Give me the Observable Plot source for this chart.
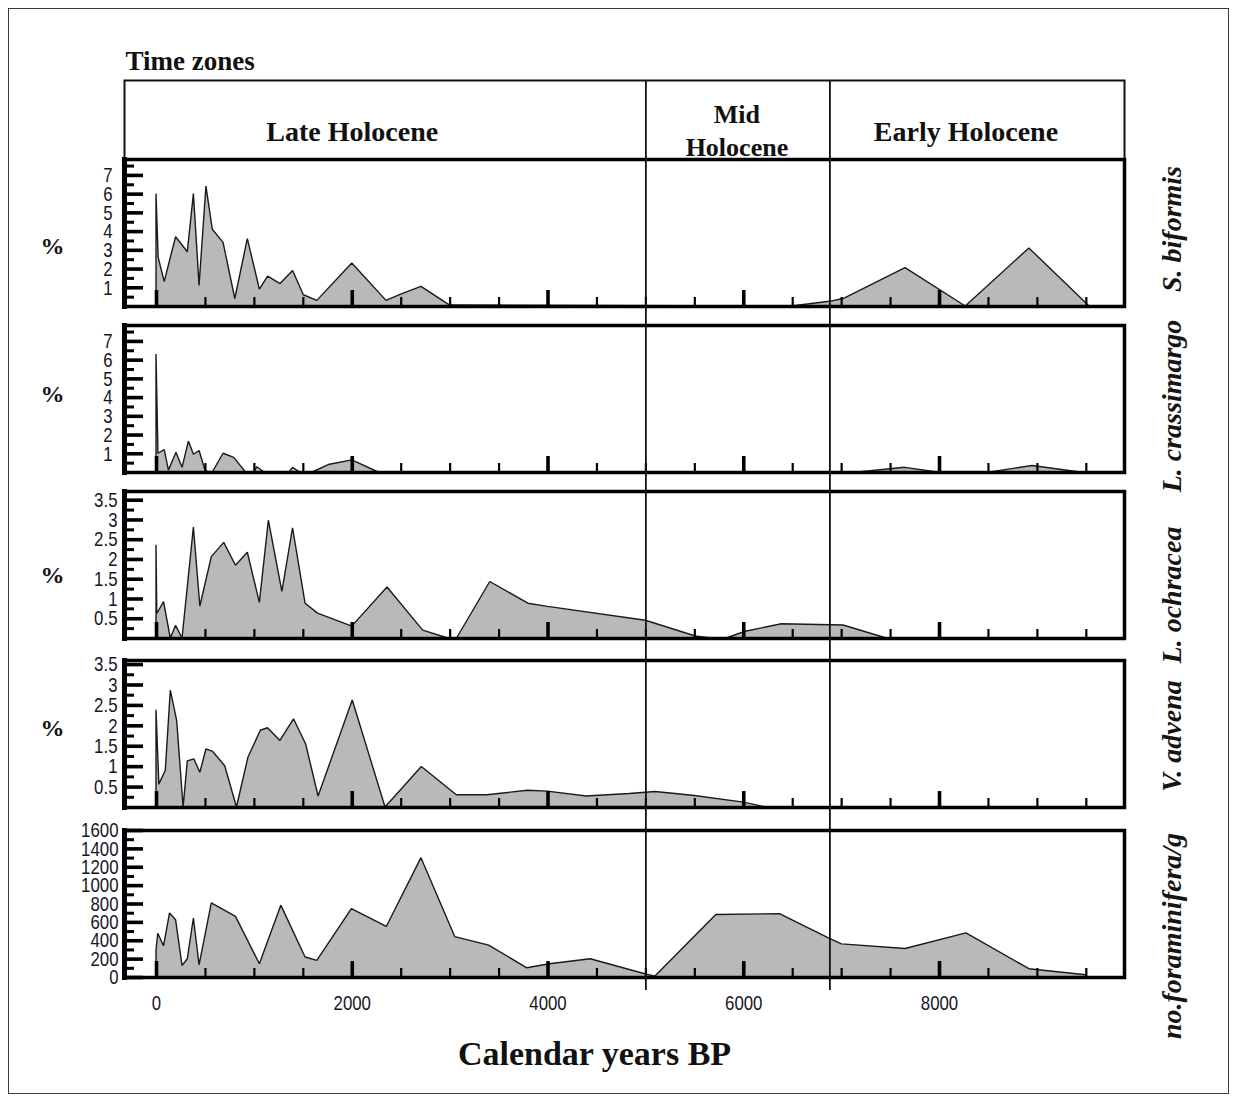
<!DOCTYPE html>
<html>
<head>
<meta charset="utf-8">
<script src="https://cdn.jsdelivr.net/npm/d3@7"></script>
<script src="https://cdn.jsdelivr.net/npm/@observablehq/plot@0.6"></script>
<style>
  body { margin: 0; background: #fff; }
  #chart { position: relative; width: 1236px; height: 1101px; background: #fff; overflow: hidden; }
  #chart svg { position: absolute; left: 0; }
  #chart .outer { position: absolute; left: 8px; top: 8px; width: 1219px; height: 1084px; border: 1.5px solid #3a3a3a; }
</style>
</head>
<body>
<div id="chart"><div class="outer"></div></div>
<script>
// ---- time axis (calendar years BP) ----
const xDomain = [-327, 9890];
const majorYears = [0, 2000, 4000, 6000, 8000];
const minorYears = [500, 1000, 1500, 2500, 3000, 3500, 4500, 5000, 5500, 6500, 7000, 7500, 8500, 9000, 9500];

// ---- Holocene time zones ----
const zoneNames = ["Late Holocene", "Mid\nHolocene", "Early Holocene"];
const zoneLabelYears = [2000, 5930, 8270];
const zoneBounds = [5000, 6880];

// ---- series: [calendar years BP, value] ----
const sBiformis = [
  [0, 6.0], [22, 2.6], [84, 1.3], [127, 2.2], [200, 3.7], [320, 2.9], [382, 6.0], [440, 1.1],
  [510, 6.4], [575, 4.1], [685, 3.4], [805, 0.4], [933, 3.6], [1056, 0.9], [1140, 1.6],
  [1268, 1.2], [1395, 1.9], [1505, 0.6], [1643, 0.3], [2000, 2.3], [2350, 0.3], [2506, 0.65],
  [2707, 1.05], [3000, 0.05], [6490, 0], [6880, 0.25], [7020, 0.4], [7653, 2.05], [8268, 0],
  [8918, 3.1], [9533, 0]
];
const lCrassimargo = [
  [0, 6.3], [20, 1.0], [84, 1.2], [127, 0.1], [204, 1.05], [266, 0.25], [331, 1.65], [382, 0.95],
  [440, 1.15], [503, 0.05], [575, 0], [685, 1.0], [794, 0.78], [914, 0], [995, 0], [1030, 0.28],
  [1104, 0], [1360, 0], [1395, 0.25], [1468, 0], [1596, 0], [1760, 0.4], [2000, 0.65], [2270, 0],
  [7170, 0], [7650, 0.25], [7980, 0], [8520, 0], [8950, 0.35], [9440, 0]
];
const lOchracea = [
  [0, 2.36], [8, 0.62], [77, 0.92], [146, 0], [200, 0.32], [266, 0], [382, 2.81], [448, 0.81],
  [565, 2.06], [692, 2.42], [812, 1.84], [933, 2.17], [1056, 0.9], [1148, 2.98], [1286, 1.18],
  [1395, 2.79], [1523, 0.88], [1650, 0.63], [2000, 0.3], [2360, 1.29], [2725, 0.2], [2980, 0],
  [3071, 0], [3410, 1.43], [3800, 0.88], [4000, 0.8], [5000, 0.45], [5510, 0.05], [5670, 0],
  [5826, 0], [6020, 0.17], [6390, 0.36], [7020, 0.33], [7460, 0]
];
const vAdvena = [
  [0, 2.38], [29, 0.56], [95, 0.9], [146, 2.86], [211, 2.12], [277, 0], [320, 1.13], [386, 1.18],
  [448, 0.85], [510, 1.42], [575, 1.37], [702, 1.01], [822, 0], [939, 1.22], [1066, 1.88],
  [1139, 1.94], [1266, 1.63], [1405, 2.16], [1528, 1.55], [1656, 0.27], [2005, 2.62], [2340, 0],
  [2711, 0.99], [3068, 0.3], [3377, 0.3], [3795, 0.41], [3996, 0.39], [4396, 0.27], [4833, 0.33],
  [5100, 0.38], [5500, 0.28], [6000, 0.12], [6230, 0]
];
const foraminifera = [
  [0, 291], [18, 476], [77, 340], [138, 697], [200, 624], [266, 125], [320, 199], [382, 642],
  [440, 133], [565, 808], [812, 660], [1056, 144], [1275, 782], [1523, 218], [1643, 181],
  [1996, 745], [2353, 550], [2707, 1299], [3053, 439], [3399, 347], [3789, 100], [4018, 144],
  [4437, 199], [5002, 33], [5098, 10], [5720, 680], [6370, 690], [6880, 420], [7003, 360],
  [7653, 310], [8275, 480], [8918, 90], [9500, 25]
];

// ---- y tick values per panel ----
const pctTicks7 = [1, 2, 3, 4, 5, 6, 7];
const pctMinor7 = [0.5, 1.5, 2.5, 3.5, 4.5, 5.5, 6.5, 7.5];
const pctTicks35 = [0.5, 1, 1.5, 2, 2.5, 3, 3.5];
const pctMinor35 = [0.25, 0.75, 1.25, 1.75, 2.25, 2.75, 3.25];
const countTicks = [0, 200, 400, 600, 800, 1000, 1200, 1400, 1600];
const countMinor = [100, 300, 500, 700, 900, 1100, 1300, 1500];

const speciesNames = ["S. biformis", "L. crassimargo", "L. ochracea", "V. advena", "no.foraminifera/g"];
const unitLabels = ["%", "%", "%", "%", null];

const toRows = arr => arr.map(([year, value]) => ({year, value}));

// layout of the stacked panels (frame top in px, y domain, tick sets, label offsets)
const panels = [
  {series: sBiformis, top: 159, domain: [0, 7.85], major: pctTicks7, minor: pctMinor7, pad: 12, unitDy: 13, nameDy: -4},
  {series: lCrassimargo, top: 325, domain: [0, 7.85], major: pctTicks7, minor: pctMinor7, pad: 12, unitDy: -5, nameDy: 7},
  {series: lOchracea, top: 491, domain: [0, 3.72], major: pctTicks35, minor: pctMinor35, pad: 7, unitDy: 10, nameDy: 30},
  {series: vAdvena, top: 660, domain: [0, 3.6], major: pctTicks35, minor: pctMinor35, pad: 7, unitDy: -6, nameDy: 2},
  {series: foraminifera, top: 830, domain: [0, 1600], major: countTicks, minor: countMinor, pad: 6, unitDy: 0, nameDy: 32}
];

const W = 1236, ML = 124, MR = 112, FRAME_W = W - ML - MR, PANEL_H = 147;
const serif = "'Liberation Serif', 'Times New Roman', serif";
const sans = "'Liberation Sans', Arial, sans-serif";
const baseStyle = {background: "transparent", overflow: "visible", fontFamily: sans, fontSize: "21px", color: "#15151f"};
const root = document.getElementById("chart");

function place(svg, top) {
  svg.style.top = top + "px";
  root.appendChild(svg);
}

// narrow the tick labels horizontally (condensed lettering)
function condenseTickLabels(svg, factor) {
  svg.querySelectorAll('g[aria-label$="tick label"] text').forEach(t => {
    const len = t.getComputedTextLength();
    if (len > 0) {
      t.setAttribute("textLength", (len * factor).toFixed(1));
      t.setAttribute("lengthAdjust", "spacingAndGlyphs");
    }
  });
}

// ---- header box with the time zones ----
const zones = zoneNames.map((name, i) => ({name, at: zoneLabelYears[i]}));
const header = Plot.plot({
  width: W, height: 161, marginTop: 80, marginBottom: 2, marginLeft: ML, marginRight: MR,
  x: {domain: xDomain, axis: null},
  style: baseStyle,
  marks: [
    Plot.frame({stroke: "#111", strokeWidth: 2}),
    Plot.text(zones.filter(z => !z.name.includes("\n")), {
      x: "at", text: "name", dy: 12, lineAnchor: "middle",
      fontFamily: serif, fontWeight: "bold", fontSize: 28, fill: "#111"
    }),
    Plot.text(zones.filter(z => z.name.includes("\n")), {
      x: "at", text: "name", dy: 9, lineAnchor: "middle", lineHeight: 1.25,
      fontFamily: serif, fontWeight: "bold", fontSize: 26, fill: "#111"
    }),
    Plot.text(["Time zones"], {
      text: d => d, frameAnchor: "top-left", textAnchor: "start", lineAnchor: "middle", dx: 1, dy: -19,
      fontFamily: serif, fontWeight: "bold", fontSize: 27, fill: "#111"
    })
  ]
});
place(header, 0);

// ---- the five stacked panels ----
panels.forEach((p, i) => {
  const last = i === panels.length - 1;
  const mt = 12, mb = last ? 100 : 12;
  const marks = [
    Plot.areaY(toRows(p.series), {x: "year", y: "value", fill: "#b9b9b9", stroke: "#1a1a1a", strokeWidth: 1.4, strokeLinejoin: "miter"}),
    Plot.tickX(minorYears, {x: d => d, insetTop: PANEL_H - 9, stroke: "#000", strokeWidth: 2.2}),
    Plot.tickX(majorYears, {x: d => d, insetTop: PANEL_H - 16, stroke: "#000", strokeWidth: 3.6}),
    Plot.tickY(p.minor, {y: d => d, insetRight: FRAME_W - 10, stroke: "#000", strokeWidth: 3}),
    Plot.tickY(p.major, {y: d => d, insetRight: FRAME_W - 19, stroke: "#000", strokeWidth: 3.6}),
    Plot.axisY({ticks: p.major, tickSize: 0, tickPadding: p.pad, tickFormat: d => String(d), label: null, fill: "#15151f"}),
    Plot.frame({stroke: "#000", strokeWidth: 3.5}),
    Plot.frame({anchor: "left", stroke: "#000", strokeWidth: 5}),
    Plot.text([speciesNames[i]], {
      text: d => d, frameAnchor: "right", textAnchor: "middle", lineAnchor: "middle",
      dx: 48, dy: p.nameDy, rotate: -90,
      fontFamily: serif, fontStyle: "italic", fontWeight: "bold", fontSize: 28, fill: "#151515"
    })
  ];
  if (unitLabels[i]) {
    marks.push(Plot.text([unitLabels[i]], {
      text: d => d, frameAnchor: "left", textAnchor: "middle", lineAnchor: "middle", dx: -72, dy: p.unitDy,
      fontFamily: serif, fontWeight: "bold", fontSize: 24, fill: "#111"
    }));
  }
  if (last) {
    marks.push(Plot.axisX({ticks: majorYears, tickSize: 0, tickPadding: 18, tickFormat: d => String(d), label: null, fill: "#15151f"}));
    marks.push(Plot.text(["Calendar years BP"], {
      text: d => d, frameAnchor: "bottom", lineAnchor: "middle", dx: -30, dy: 77,
      fontFamily: serif, fontWeight: "bold", fontSize: 34, fill: "#111"
    }));
  }
  const svg = Plot.plot({
    width: W, height: PANEL_H + mt + mb, marginTop: mt, marginBottom: mb, marginLeft: ML, marginRight: MR,
    x: {domain: xDomain, axis: null},
    y: {domain: p.domain, axis: null},
    style: baseStyle,
    marks
  });
  place(svg, p.top - mt);
  condenseTickLabels(svg, 0.8);
});

// ---- zone boundaries running through header and all panels ----
const overlay = Plot.plot({
  width: W, height: 1101, marginTop: 80, marginBottom: 111, marginLeft: ML, marginRight: MR,
  x: {domain: xDomain, axis: null},
  style: {...baseStyle, pointerEvents: "none"},
  marks: [Plot.ruleX(zoneBounds, {stroke: "#111", strokeWidth: 1.8})]
});
place(overlay, 0);
</script>
</body>
</html>
